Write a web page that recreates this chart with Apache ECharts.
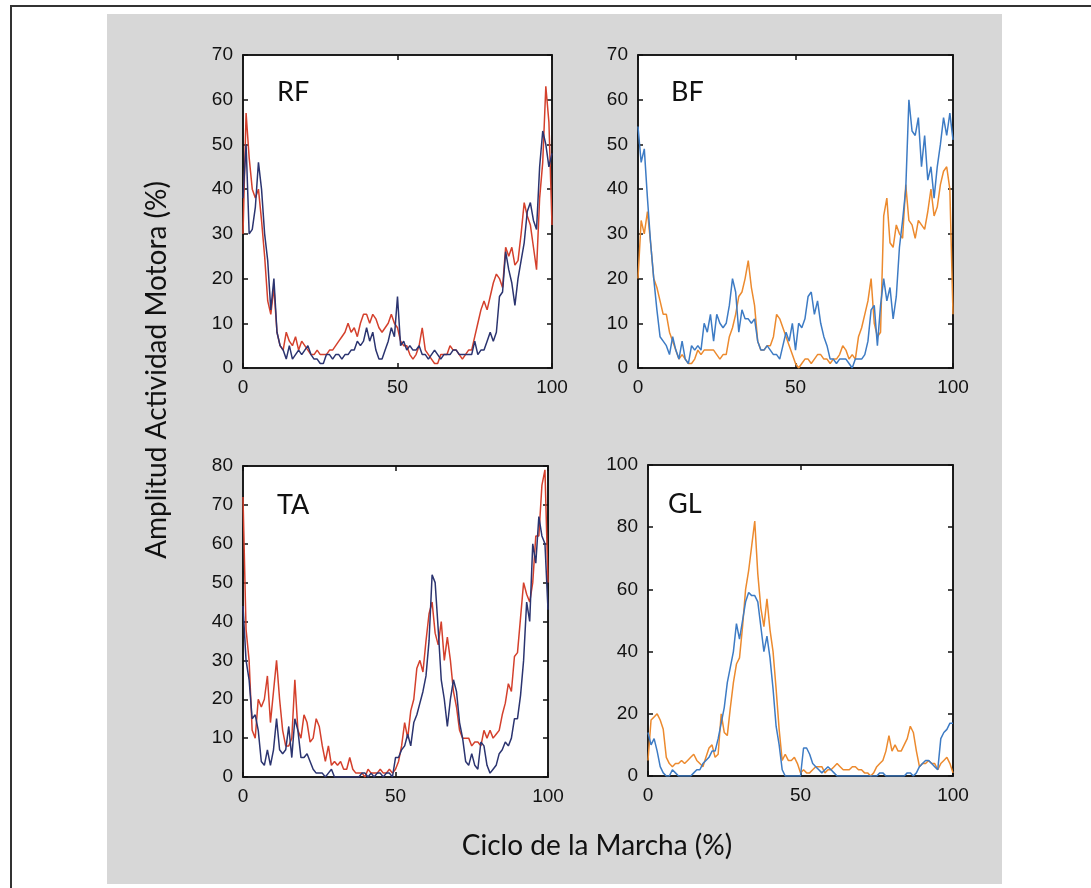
<!DOCTYPE html>
<html>
<head>
<meta charset="utf-8">
<script src="https://cdn.jsdelivr.net/npm/echarts@6/dist/echarts.min.js"></script>
<style>
html,body{margin:0;padding:0;background:#fff;}
#chart{width:1091px;height:888px;}
</style>
</head>
<body>
<div id="chart"></div>
<script>
// ---- Data (percentage of gait cycle 0..100, step 1) ----
const panelNames = ['RF', 'BF', 'TA', 'GL'];
const yMax = [70, 70, 80, 100];
const yStep = [10, 10, 10, 20];
const xTicks = [0, 50, 100];

const rfRed = [30,57,47,40,38,40,33,25,15,12,18,8,5,4,8,6,5,7,4,6,5,4,3,3,4,3,3,3,4,4,5,6,7,8,10,8,9,7,10,12,12,10,12,11,9,8,9,10,12,10,9,6,5,5,3,2,3,5,9,4,3,2,1,1,3,3,3,5,4,4,3,2,3,4,4,7,10,13,15,13,16,19,21,20,18,27,25,27,23,24,30,37,34,32,27,22,38,46,63,55,32];
const rfNavy = [38,50,30,31,36,46,40,30,24,13,20,8,5,4,2,5,2,3,4,3,4,5,3,2,2,1,1,3,3,2,3,3,2,3,3,4,4,6,5,6,9,6,8,4,2,2,4,6,9,7,16,5,6,4,5,4,4,5,3,3,2,3,4,3,2,3,3,3,4,4,3,3,3,3,3,6,3,4,4,6,8,6,8,16,17,26,22,19,14,20,24,28,35,37,33,31,45,53,50,45,48];

const bfOrange = [20,33,30,35,28,20,18,15,12,12,8,6,4,2,3,2,1,1,2,4,3,4,4,4,4,3,2,3,3,7,9,12,16,17,20,24,18,14,6,4,4,5,5,7,12,11,9,7,5,3,1,0,1,2,2,1,2,3,3,2,2,1,2,2,3,5,4,2,3,2,7,9,12,15,20,10,7,8,34,38,28,27,32,30,29,41,33,32,29,33,32,31,35,40,34,36,41,44,45,40,12];
const bfBlue = [54,46,49,38,28,20,13,7,6,5,3,7,4,2,6,2,1,5,4,5,4,10,8,12,6,12,10,9,10,14,20,17,8,13,11,11,10,11,6,4,4,5,4,3,3,2,5,8,6,10,4,10,9,11,16,17,12,15,10,7,5,2,2,1,2,2,2,1,0,2,2,2,3,6,13,14,5,14,20,15,18,11,16,27,33,40,60,53,52,56,45,52,42,45,38,45,50,56,52,57,51];

const taRed = [72,38,30,12,10,20,18,20,26,14,22,30,20,12,8,8,10,25,12,10,16,14,9,10,15,13,8,4,8,3,4,3,4,2,2,5,2,1,1,1,0,2,1,1,1,2,1,1,2,1,2,4,8,14,10,17,20,28,30,27,35,42,45,37,34,40,30,36,30,22,18,12,10,10,10,8,9,9,8,12,10,12,10,11,12,16,19,24,22,31,32,41,50,47,45,50,62,62,75,79,50];
const taNavy = [44,30,25,15,16,12,4,3,7,3,7,15,7,6,7,13,5,15,12,5,5,6,4,2,1,1,1,0,1,2,0,0,0,0,0,0,0,0,0,1,1,0,1,0,1,1,0,1,1,0,5,5,7,8,11,8,14,16,19,22,26,35,52,50,38,25,20,13,20,25,22,14,10,4,3,6,3,2,9,8,3,1,2,3,6,7,9,8,10,15,15,21,30,45,40,60,55,67,62,60,43];

const glOrange = [5,18,19,20,18,15,6,4,3,4,4,5,4,5,6,7,5,4,3,6,9,10,6,7,20,14,13,22,30,36,38,48,60,66,74,82,65,54,48,57,47,40,28,15,5,7,5,5,6,4,1,2,1,1,2,3,3,3,1,2,2,3,4,3,2,2,2,3,3,2,2,1,1,0,1,3,4,5,8,13,8,10,8,8,10,12,16,14,8,3,4,4,5,4,4,2,4,5,6,4,1];
const glBlue = [14,10,12,8,3,1,0,0,2,1,0,0,0,0,0,1,2,2,4,5,6,8,8,12,17,22,30,35,40,49,44,50,56,59,58,58,56,48,40,45,38,28,16,10,2,0,0,0,0,0,0,9,9,7,4,3,2,1,2,3,2,1,0,0,0,0,0,0,0,0,0,0,0,0,0,0,1,1,0,0,0,0,0,0,0,1,1,0,1,3,4,5,5,4,3,2,12,14,15,17,17];

const panelSeries = [
  [{d: rfRed, c: '#d4402c'}, {d: rfNavy, c: '#2b3470'}],
  [{d: bfOrange, c: '#ec8a2e'}, {d: bfBlue, c: '#3d7bc4'}],
  [{d: taRed, c: '#d4402c'}, {d: taNavy, c: '#2b3470'}],
  [{d: glOrange, c: '#ec8a2e'}, {d: glBlue, c: '#3d7bc4'}]
];

// ---- Layout ----
const grids = [
  {left: 243, top: 55, width: 309, height: 313},
  {left: 638, top: 55, width: 315, height: 313},
  {left: 243, top: 466, width: 305, height: 311},
  {left: 648, top: 465, width: 305, height: 311}
];
const labelPos = [[277, 79], [671, 79], [277, 492], [668, 491]];

const tickFont = {fontFamily: 'Liberation Sans', fontSize: 19, color: '#111'};
const lineStyle = {color: '#111', width: 1.5};

const option = {
  backgroundColor: '#ffffff',
  animation: false,
  grid: grids.map(g => Object.assign({}, g, {show: true, backgroundColor: '#ffffff', borderColor: '#111', borderWidth: 1.5, containLabel: false})),
  xAxis: [],
  yAxis: [],
  series: [],
  graphic: [
    {type: 'rect', z: -100, shape: {x: 107, y: 14, width: 895, height: 870}, style: {fill: '#d7d7d7'}},
    {type: 'rect', z: -99, shape: {x: 11, y: 6, width: 1200, height: 1000}, style: {fill: 'none', stroke: '#333', lineWidth: 2}},
    {type: 'text', x: 157, y: 370, rotation: Math.PI / 2,
      style: {text: 'Amplitud Actividad Motora (%)', font: '28px Lato', fill: '#111', textAlign: 'center', textVerticalAlign: 'middle'}},
    {type: 'text', x: 597, y: 846,
      style: {text: 'Ciclo de la Marcha (%)', font: '28px Lato', fill: '#111', textAlign: 'center', textVerticalAlign: 'middle'}}
  ]
};

for (let i = 0; i < 4; i++) {
  const axBase = {gridIndex: i, type: 'value', min: 0, max: 100, interval: 50,
    axisLine: {show: true, onZero: false, lineStyle: lineStyle},
    axisTick: {show: true, inside: true, length: 5, lineStyle: lineStyle},
    splitLine: {show: false}};
  option.xAxis.push(Object.assign({}, axBase, {position: 'bottom',
    axisLabel: Object.assign({margin: 10, customValues: xTicks}, tickFont)}));
  option.xAxis.push(Object.assign({}, axBase, {position: 'top', axisLabel: {show: false}}));
  const yBase = {gridIndex: i, type: 'value', min: 0, max: yMax[i], interval: yStep[i],
    axisLine: {show: true, onZero: false, lineStyle: lineStyle},
    axisTick: {show: true, inside: true, length: 5, lineStyle: lineStyle},
    splitLine: {show: false}};
  option.yAxis.push(Object.assign({}, yBase, {position: 'left',
    axisLabel: Object.assign({margin: 10}, tickFont)}));
  option.yAxis.push(Object.assign({}, yBase, {position: 'right', axisLabel: {show: false}}));

  panelSeries[i].forEach(s => {
    option.series.push({
      type: 'line', xAxisIndex: 2 * i, yAxisIndex: 2 * i,
      showSymbol: false, symbol: 'none',
      lineStyle: {color: s.c, width: 1.5},
      data: s.d.map((v, k) => [k, v]),
      z: 3
    });
  });
  option.graphic.push({type: 'text', x: labelPos[i][0], y: labelPos[i][1],
    style: {text: panelNames[i], font: '27px Lato', fill: '#111'}});
}

const chart = echarts.init(document.getElementById('chart'), null, {renderer: 'canvas'});
chart.setOption(option);
</script>
</body>
</html>
